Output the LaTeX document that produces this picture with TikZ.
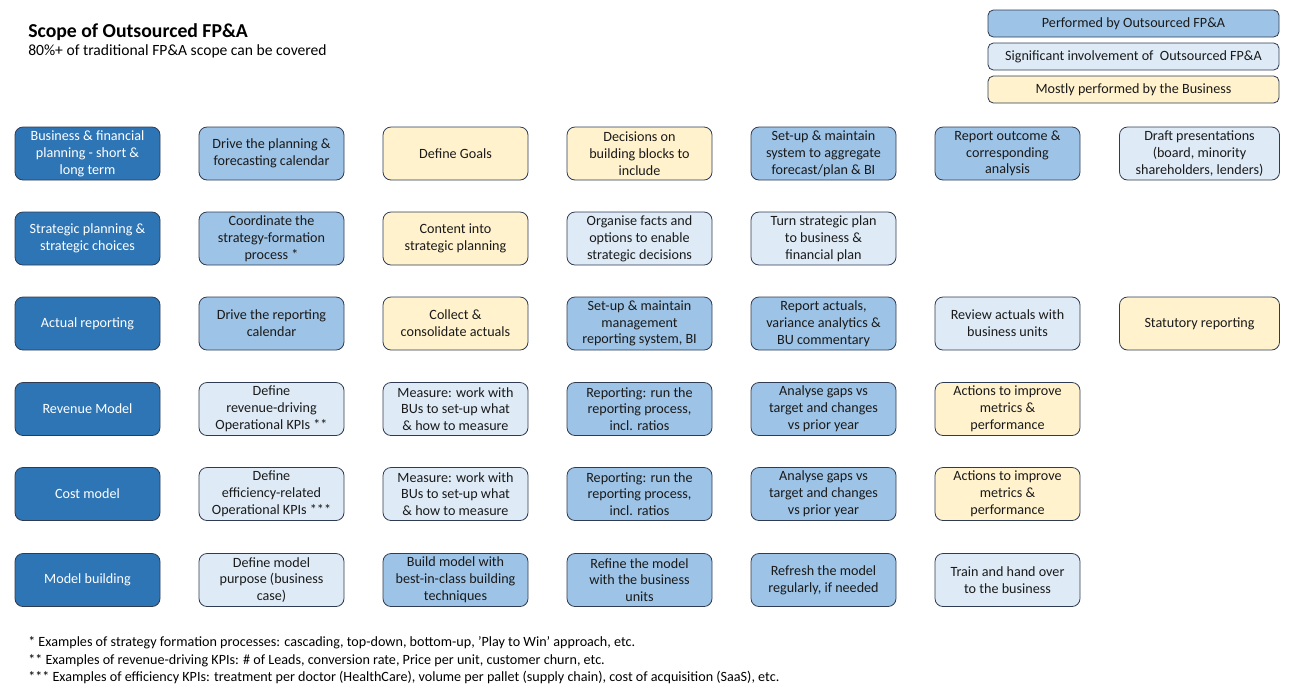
\documentclass[tikz,border=0pt]{standalone}
\usepackage{fontspec}
\setmainfont{Carlito}
\definecolor{darkblue}{HTML}{2E75B6}
\definecolor{midblue}{HTML}{9DC3E6}
\definecolor{paleblue}{HTML}{DEEBF7}
\definecolor{cream}{HTML}{FFF2CC}
\definecolor{boxline}{HTML}{2F3B52}
\definecolor{boxtext}{HTML}{1A1A1A}
\begin{document}
\begin{tikzpicture}[
  x=0.75pt, y=-0.75pt,
  box/.style={draw=boxline, line width=0.6pt, rounded corners=6pt, align=center,
    minimum width=108.75pt, minimum height=39.75pt, inner sep=0pt,
    font=\fontsize{10.6}{12.6}\selectfont, text=boxtext},
  area/.style={box, fill=darkblue, text=white},
  done/.style={box, fill=midblue},
  help/.style={box, fill=paleblue},
  biz/.style={box, fill=cream},
  wide/.style={minimum width=120pt},
  key/.style={box, minimum width=218.25pt, minimum height=20.25pt, rounded corners=4pt},
  note/.style={anchor=base west, inner sep=0pt, font=\fontsize{10.6}{12.6}\selectfont}
]
\useasboundingbox (0,0) rectangle (1291,694);

% heading
\node[anchor=base west, inner sep=0pt, font=\bfseries\fontsize{14.8}{17}\selectfont] (title) at (28,37) {Scope of Outsourced FP\&A};
\node[anchor=base west, inner sep=0pt, font=\fontsize{11.7}{14}\selectfont] (subtitle) at (28,55) {80\%+ of traditional FP\&A scope can be covered};

% legend
\node[key, fill=midblue] (keydone) at (1133.5,23.5) {Performed by Outsourced FP\&A};
\node[key, fill=paleblue] (keyhelp) at (1133.5,56.5) {Significant involvement of \ Outsourced FP\&A};
\node[key, fill=cream] (keybiz) at (1133.5,89.5) {Mostly performed by the Business};

% planning
\node[area] (plan) at (87.5,153.5) {Business \& financial\\planning - short \&\\long term};
\node[done] (plancal) at (271.5,153.5) {Drive the planning \&\\forecasting calendar};
\node[biz] (goals) at (455.5,153.5) {Define Goals};
\node[biz] (blocks) at (639.5,153.5) {Decisions on\\building blocks to\\include};
\node[done] (aggsys) at (823.5,153.5) {Set-up \& maintain\\system to aggregate\\forecast/plan \& BI};
\node[done] (outcome) at (1007.5,153.5) {Report outcome \&\\corresponding\\analysis};
\node[help, wide] (decks) at (1199.5,153.5) {Draft presentations\\(board, minority\\shareholders, lenders)};

% strategy
\node[area] (strat) at (87.5,238.5) {Strategic planning \&\\strategic choices};
\node[done] (stratproc) at (271.5,238.5) {Coordinate the\\strategy-formation\\process *};
\node[biz] (stratcontent) at (455.5,238.5) {Content into\\strategic planning};
\node[help] (facts) at (639.5,238.5) {Organise facts and\\options to enable\\strategic decisions};
\node[help] (turnplan) at (823.5,238.5) {Turn strategic plan\\to business \&\\financial plan};

% actuals
\node[area] (actual) at (87.5,323.5) {Actual reporting};
\node[done] (repcal) at (271.5,323.5) {Drive the reporting\\calendar};
\node[biz] (collect) at (455.5,323.5) {Collect \&\\consolidate actuals};
\node[done] (mgmtsys) at (639.5,323.5) {Set-up \& maintain\\management\\reporting system, BI};
\node[done] (variance) at (823.5,323.5) {Report actuals,\\variance analytics \&\\BU commentary};
\node[help] (review) at (1007.5,323.5) {Review actuals with\\business units};
\node[biz, wide] (statutory) at (1199.5,323.5) {Statutory reporting};

% revenue
\node[area] (revenue) at (87.5,409) {Revenue Model};
\node[help] (revkpi) at (271.5,409) {Define\\revenue-driving\\Operational KPIs **};
\node[help] (revmeasure) at (455.5,409) {Measure: work with\\BUs to set-up what\\\& how to measure};
\node[done] (revreport) at (639.5,409) {Reporting: run the\\reporting process,\\incl. ratios};
\node[done] (revgaps) at (823.5,409) {Analyse gaps vs\\target and changes\\vs prior year};
\node[biz] (revactions) at (1007.5,409) {Actions to improve\\metrics \&\\performance};

% cost
\node[area] (cost) at (87.5,494) {Cost model};
\node[help] (costkpi) at (271.5,494) {Define\\efficiency-related\\Operational KPIs ***};
\node[help] (costmeasure) at (455.5,494) {Measure: work with\\BUs to set-up what\\\& how to measure};
\node[done] (costreport) at (639.5,494) {Reporting: run the\\reporting process,\\incl. ratios};
\node[done] (costgaps) at (823.5,494) {Analyse gaps vs\\target and changes\\vs prior year};
\node[biz] (costactions) at (1007.5,494) {Actions to improve\\metrics \&\\performance};

% model
\node[area] (model) at (87.5,580) {Model building};
\node[help] (purpose) at (271.5,580) {Define model\\purpose (business\\case)};
\node[done] (build) at (455.5,580) {Build model with\\best-in-class building\\techniques};
\node[done] (refine) at (639.5,580) {Refine the model\\with the business\\units};
\node[done] (refresh) at (823.5,580) {Refresh the model\\regularly, if needed};
\node[help] (handover) at (1007.5,580) {Train and hand over\\to the business};

% footnotes
\node[note] (note1) at (28,646) {* Examples of strategy formation processes: cascading, top-down, bottom-up, 'Play to Win’ approach, etc.};
\node[note] (note2) at (28,664) {** Examples of revenue-driving KPIs: \# of Leads, conversion rate, Price per unit, customer churn, etc.};
\node[note] (note3) at (28,681) {*** Examples of efficiency KPIs: treatment per doctor (HealthCare), volume per pallet (supply chain), cost of acquisition (SaaS), etc.};
\end{tikzpicture}
\end{document}
